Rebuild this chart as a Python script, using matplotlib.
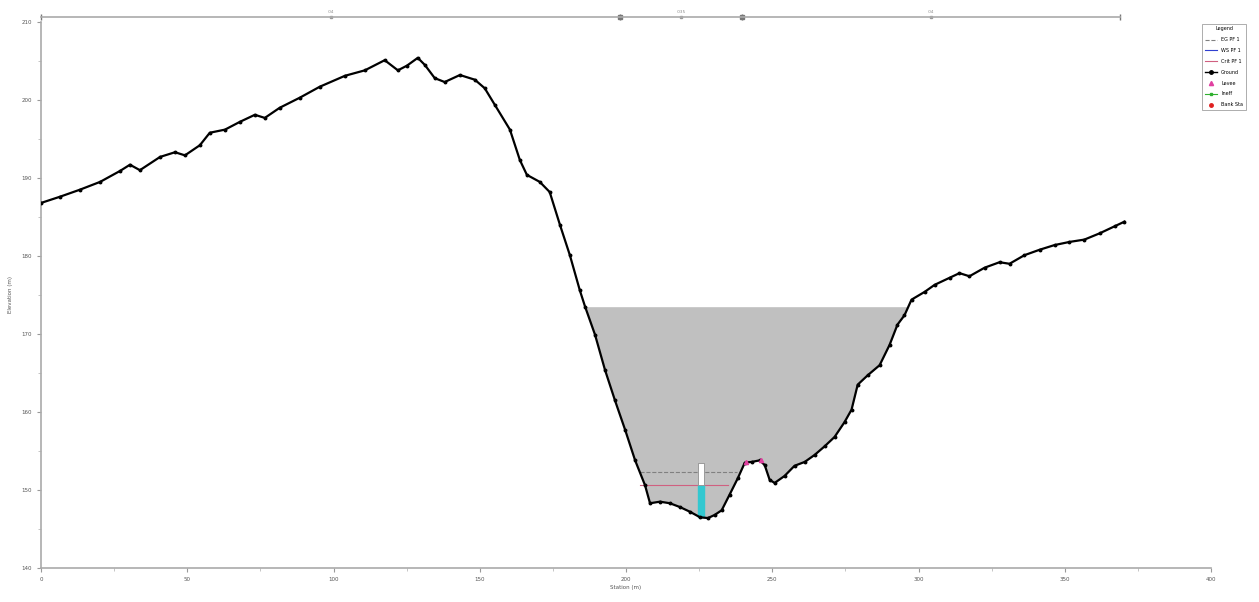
import numpy as np
import matplotlib.pyplot as plt
from matplotlib.lines import Line2D

# Ground profile (station m, elevation m)
station = [0.0, 6.5, 13.3, 20.2, 27.0, 30.4, 33.8, 40.7, 45.8, 49.2, 54.3, 57.7,
           62.9, 68.0, 73.1, 76.5, 81.6, 88.5, 95.3, 103.9, 110.7, 117.5, 122.0,
           125.1, 128.8, 131.2, 134.6, 138.0, 143.2, 148.3, 151.7, 155.1, 160.3,
           163.7, 166.1, 170.5, 173.9, 177.4, 180.8, 184.2, 186.0, 189.4, 192.8,
           196.2, 199.7, 203.1, 206.5, 208.2, 211.6, 215.0, 218.5, 221.9, 225.3,
           228.0, 230.3, 232.7, 235.4, 238.2, 240.6, 243.0, 245.7, 247.4, 249.1,
           250.8, 254.2, 257.6, 261.1, 264.5, 267.9, 271.3, 274.7, 277.1, 279.2,
           282.6, 286.7, 290.1, 292.8, 295.2, 297.6, 302.1, 305.5, 310.6, 314.0,
           317.4, 322.6, 327.7, 331.1, 336.2, 341.4, 346.5, 351.6, 356.7, 361.9,
           367.0, 370.4]
elev = [186.8, 187.6, 188.5, 189.5, 190.9, 191.7, 191.0, 192.7, 193.3, 192.9,
        194.2, 195.8, 196.2, 197.2, 198.1, 197.7, 199.0, 200.3, 201.7, 203.1,
        203.8, 205.1, 203.8, 204.4, 205.4, 204.5, 202.8, 202.3, 203.2, 202.6,
        201.5, 199.4, 196.2, 192.3, 190.4, 189.5, 188.2, 184.0, 180.1, 175.6,
        173.5, 169.9, 165.4, 161.5, 157.7, 153.8, 150.6, 148.3, 148.5, 148.3,
        147.8, 147.2, 146.5, 146.4, 146.8, 147.4, 149.4, 151.5, 153.5, 153.6,
        153.8, 153.2, 151.3, 150.9, 151.8, 153.1, 153.6, 154.5, 155.6, 156.8,
        158.7, 160.3, 163.5, 164.7, 166.0, 168.6, 171.2, 172.4, 174.4, 175.4,
        176.3, 177.2, 177.8, 177.4, 178.5, 179.2, 179.0, 180.1, 180.8, 181.4,
        181.8, 182.1, 182.9, 183.8, 184.4]

ws_elev = 173.5          # water surface PF 1
eg_elev = 152.3          # energy grade
crit_elev = 150.6        # critical
eg_span = [204.7, 237.9]
crit_span = [204.7, 234.8]

bank_sta = [198.0, 239.6]
levee_sta = [240.9, 246.0]
levee_elev = [153.6, 153.8]
n_breaks = [0.0, 198.0, 239.6, 368.8]
n_values = [".04", ".035", ".04"]

pier_x = [224.5, 226.8]
pier_low = [146.5, 150.6, 153.5]

fig = plt.figure(figsize=(12.59, 6.02), dpi=100)
ax = fig.add_axes([0.0326, 0.0565, 0.9293, 0.907])

st = np.array(station)
el = np.array(elev)
ax.fill_between(st, el, ws_elev, where=el < ws_elev, interpolate=True,
                color='#c0c0c0', linewidth=0, zorder=1)

# pier / obstruction in the channel
ax.fill_between(pier_x, pier_low[0], pier_low[1], color='#33c8d0', zorder=3)
ax.fill_between(pier_x, pier_low[1], pier_low[2], facecolor='white',
                edgecolor='#909090', linewidth=0.6, zorder=3)

ax.plot(eg_span, [eg_elev, eg_elev], color='#808080', lw=0.8, ls='--', zorder=2)
ax.plot(crit_span, [crit_elev, crit_elev], color='#d06080', lw=0.8, zorder=2)

ax.plot(station, elev, color='black', lw=1.6, marker='o', markersize=1.8, zorder=4)
ax.plot(levee_sta, levee_elev, ls='none', marker='^', color='#e040a0',
        markersize=3, zorder=5)

ax.set_xlim(0, 400)
ax.set_ylim(140, 210)
ax.set_xticks(np.arange(0, 401, 50))
ax.set_xticks(np.arange(0, 401, 25), minor=True)
ax.set_yticks(np.arange(140, 211, 10))
ax.set_yticks(np.arange(140, 211, 5), minor=True)
ax.tick_params(labelsize=4, length=3, color='#999999', labelcolor='#555555')
ax.tick_params(which='minor', length=2, color='#bbbbbb')
for s in ['top', 'right']:
    ax.spines[s].set_visible(False)
for s in ['left', 'bottom']:
    ax.spines[s].set_color('#aaaaaa')
    ax.spines[s].set_linewidth(1.2)
ax.set_xlabel('Station (m)', fontsize=4, color='#555555', labelpad=2)
ax.set_ylabel('Elevation (m)', fontsize=4, color='#555555', labelpad=6)

# Manning's n bar along the top
ybar = 210.6
ax.plot([n_breaks[0], n_breaks[-1]], [ybar, ybar], color='#aaaaaa', lw=1.2,
        clip_on=False, zorder=6)
ax.plot(n_breaks, [ybar] * len(n_breaks), ls='none', marker='|', color='#777777',
        markersize=5, clip_on=False)
ax.plot(bank_sta, [ybar, ybar], ls='none', marker='s', color='#777777',
        markersize=3, clip_on=False)
for i, nv in enumerate(n_values):
    xm = (n_breaks[i] + n_breaks[i + 1]) / 2
    ax.plot([xm], [ybar], ls='none', marker='s', color='#999999', markersize=2,
            clip_on=False)
    ax.text(xm, ybar + 0.4, nv, fontsize=3, color='#888888', ha='center',
            va='bottom', clip_on=False)

handles = [
    Line2D([], [], color='#808080', lw=0.8, ls='--', label='EG PF 1'),
    Line2D([], [], color='#3040d0', lw=0.8, label='WS PF 1'),
    Line2D([], [], color='#d06080', lw=0.8, label='Crit PF 1'),
    Line2D([], [], color='black', lw=1.0, marker='o', markersize=2.5, label='Ground'),
    Line2D([], [], color='#e040a0', ls='none', marker='^', markersize=3, label='Levee'),
    Line2D([], [], color='#30b030', lw=0.8, marker='s', markersize=2, label='Ineff'),
    Line2D([], [], color='#e02020', ls='none', marker='o', markersize=2.5, label='Bank Sta'),
]
leg = fig.legend(handles=handles, title='Legend', loc='upper left',
                 bbox_to_anchor=(0.953, 0.965), fontsize=3.5, title_fontsize=3.5,
                 frameon=True, fancybox=False, edgecolor='#888888',
                 handlelength=2.5, labelspacing=1.2, borderpad=0.6)
leg.get_frame().set_linewidth(0.6)

fig.savefig('out.png', dpi=100)
